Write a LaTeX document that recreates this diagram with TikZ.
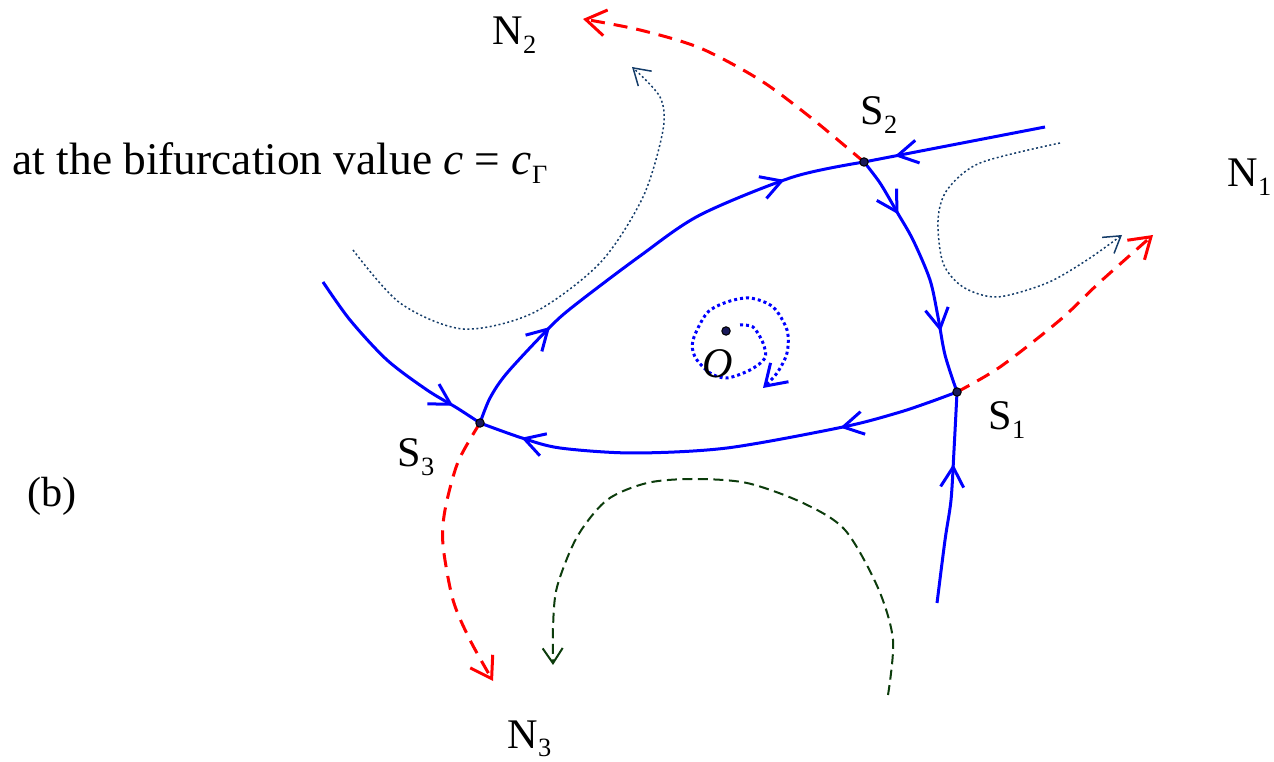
\documentclass[tikz,border=0pt]{standalone}
\usepackage{fontspec}
\setmainfont{Liberation Serif}
\usetikzlibrary{arrows.meta,decorations.markings}
\definecolor{flowblue}{RGB}{20,60,105}
\definecolor{flowgreen}{RGB}{12,60,12}
\definecolor{dotnavy}{RGB}{25,25,90}
\newcommand{\lowsub}[1]{\raisebox{-2.4pt}{\fontsize{7.5}{8}\selectfont #1}}
\tikzset{
  lbl/.style={font=\fontsize{12}{14}\selectfont, inner sep=0pt, anchor=base west},
  orbit/.style={blue, line width=0.3mm},
  tick/.style={postaction={decorate, decoration={markings,
      mark=at position #1 with {\arrow{Straight Barb[length=2mm,width=2.3mm]}}}}},
  unstable/.style={red, line width=0.3mm, dash pattern=on 1.4mm off 0.9mm,
      -{Straight Barb[length=2mm,width=2.6mm]}},
  flowdot/.style={flowblue, line width=0.15mm, dash pattern=on 0.2mm off 0.25mm,
      -{Straight Barb[length=1.6mm,width=2mm]}},
  flowdash/.style={flowgreen, line width=0.2mm, dash pattern=on 1mm off 0.55mm,
      -{Straight Barb[length=1.5mm,width=2mm]}},
  spiral/.style={blue, line width=0.3mm, dash pattern=on 0.3mm off 0.3mm,
      -{Straight Barb[length=2mm,width=2.6mm]}},
  saddle/.style={fill=dotnavy, draw=black, line width=0.1mm},
}

\begin{document}
\begin{tikzpicture}[x=0.01cm, y=-0.01cm]
  \useasboundingbox (0,0) rectangle (1274,762);

  % saddles and focus
  \coordinate (S1) at (957,392);
  \coordinate (S2) at (864,162);
  \coordinate (S3) at (480,423);
  \coordinate (O) at (726,331);

  % free ends
  \coordinate (in1) at (937,603);
  \coordinate (in2) at (1045,127);
  \coordinate (in3) at (323,282);

  % heteroclinic cycle
  \draw[orbit, tick=0.25, tick=0.83] plot[smooth] coordinates {(S3) (490,398) (507,373) (550,327) (575,305) (640,256) (700,215) (793,177) (S2)};
  \draw[orbit, tick=0.25, tick=0.75] plot[smooth] coordinates {(S2) (880,183) (897,212) (913,240) (930,280) (938,317) (945,355) (S1)};
  \draw[orbit, tick=0.25, tick=0.91] plot[smooth] coordinates {(S1) (930,402) (897,413) (843,427) (727,448) (633,453) (560,448) (522,438) (S3)};

  % stable manifolds
  \draw[orbit, tick=0.83] (in2) -- (S2);
  \draw[orbit, tick=0.66] plot[smooth] coordinates {(in1) (945,540) (951,500) (954,450) (S1)};
  \draw[orbit, tick=0.85] plot[smooth] coordinates {(in3) (350,320) (387,360) (427,390) (457,408) (S3)};

  % unstable manifolds
  \draw[unstable] plot[smooth] coordinates {(S2) (810,117) (760,80) (700,48) (640,30) (583,19)};
  \draw[unstable] plot[smooth] coordinates {(S1) (1000,367) (1060,320) (1100,282) (1153,235)};
  \draw[unstable] plot[smooth] coordinates {(S3) (458,462) (445,510) (443,545) (453,600) (470,640) (493,681)};

  % other orbits
  \draw[flowdot] plot[smooth] coordinates {(353,250) (400,303) (463,329) (533,313) (600,263) (643,197) (663,130) (660,97) (632,67)};
  \draw[flowdot] plot[smooth] coordinates {(1060,143) (980,163) (947,190) (938,220) (943,263) (963,287) (997,297) (1047,283) (1087,260) (1122,235)};
  \draw[flowdash] plot[smooth] coordinates {(888,695) (893,640) (878,588) (845,530) (803,503) (747,483) (693,479) (647,483) (607,500) (577,537) (557,587) (553,627) (553,665)};
  \draw[spiral] plot[smooth] coordinates {(740,325) (753,327) (763,343) (765,358) (750,370) (727,378) (710,373) (695,357) (693,340) (707,313) (727,302) (750,298) (773,307) (787,330) (787,353) (777,373) (763,388)};

  % points
  \foreach \p in {S1,S2,S3,O}
    \fill[saddle] (\p) circle (1.2pt);

  % labels
  \node[lbl, font=\fontsize{12.9}{15}\selectfont] (title) at (12,175) {at the bifurcation value \textit{c} = \textit{c}\lowsub{Γ}};
  \node[lbl] (nN2) at (492,45) {N\lowsub{2}};
  \node[lbl] (nS2) at (860,125) {S\lowsub{2}};
  \node[lbl] (nN1) at (1227,187) {N\lowsub{1}};
  \node[lbl] (nS1) at (988,430) {S\lowsub{1}};
  \node[lbl] (nS3) at (397,467) {S\lowsub{3}};
  \node[lbl] (nN3) at (507,748) {N\lowsub{3}};
  \node[lbl] (nb) at (27,507) {(b)};
  \node[lbl] (nO) at (702,378) {\textit{O}};
\end{tikzpicture}
\end{document}
